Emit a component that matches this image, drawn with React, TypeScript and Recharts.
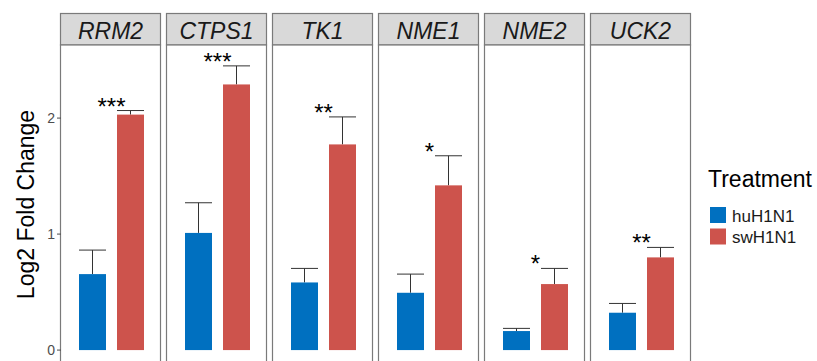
import React from 'react';
import { BarChart, Bar, XAxis, YAxis } from 'recharts';

// qPCR log2 fold change per gene, two treatments
const genes = ['RRM2', 'CTPS1', 'TK1', 'NME1', 'NME2', 'UCK2'];
const huH1N1 = [0.655, 1.01, 0.583, 0.494, 0.164, 0.322];
const swH1N1 = [2.03, 2.29, 1.773, 1.42, 0.569, 0.799];
const huErr = [0.207, 0.26, 0.121, 0.161, 0.023, 0.08];
const swErr = [0.035, 0.16, 0.237, 0.255, 0.135, 0.086];
const signif = ['***', '***', '**', '*', '*', '**'];
const yTicks = [0, 1, 2];

const treatments = ['huH1N1', 'swH1N1'];
const COLORS = ['#0070C0', '#CD534C'];
const FONT = '"Liberation Sans", Arial, sans-serif';

const PANEL_X0 = 60;
const PANEL_STEP = 106;
const PANEL_W = 100;
const PLOT_TOP = 45;
const PLOT_H = 319;
const AXIS_W = 60;
const Y_DOMAIN: [number, number] = [-0.12, 2.63];

function makeShape(errKey: string, valueKey: string, withStar: boolean) {
  return (props: any) => {
    const { x, y, width, height, fill, payload } = props;
    const v = payload[valueKey];
    const ppu = v ? height / v : 0;
    const errTop = y - payload[errKey] * ppu;
    const mid = x + width / 2;
    return (
      <g>
        <line x1={mid} x2={mid} y1={y} y2={errTop} stroke="#333" strokeWidth={1} />
        <line x1={x} x2={x + width} y1={errTop} y2={errTop} stroke="#333" strokeWidth={1} />
        <rect x={x} y={y} width={width} height={height} fill={fill} />
        {withStar && (
          <text
            x={x - 5.5}
            y={errTop + 4}
            textAnchor="middle"
            fontSize={24}
            fontFamily={FONT}
            fill="#000"
          >
            {payload.sig}
          </text>
        )}
      </g>
    );
  };
}

const huShape = makeShape('huErr', 'hu', false);
const swShape = makeShape('swErr', 'sw', true);

function Panel({ i }: { i: number }) {
  const first = i === 0;
  const data = [
    {
      gene: genes[i],
      hu: huH1N1[i],
      sw: swH1N1[i],
      huErr: huErr[i],
      swErr: swErr[i],
      sig: signif[i],
    },
  ];
  const w = first ? PANEL_W + AXIS_W : PANEL_W;
  const left = first ? PANEL_X0 - AXIS_W : PANEL_X0 + PANEL_STEP * i;
  return (
    <div style={{ position: 'absolute', left: left + 0.5, top: PLOT_TOP }}>
      <BarChart
        width={w}
        height={PLOT_H}
        data={data}
        margin={{ top: 0, right: 0, bottom: 0, left: 0 }}
        barSize={27}
        barGap={11}
      >
        <XAxis dataKey="gene" hide />
        <YAxis
          hide={!first}
          width={AXIS_W}
          domain={Y_DOMAIN}
          ticks={yTicks}
          allowDataOverflow
          axisLine={false}
          tickSize={4}
          tickMargin={2}
          tickLine={{ stroke: '#4d4d4d' }}
          tick={{ fill: '#4d4d4d', fontSize: 14, fontFamily: FONT }}
          label={
            first
              ? {
                  value: 'Log2 Fold Change',
                  angle: -90,
                  position: 'center',
                  dx: -5,
                  style: { fill: '#000', fontSize: 23, fontFamily: FONT },
                }
              : undefined
          }
        />
        <Bar dataKey="hu" fill={COLORS[0]} shape={huShape} isAnimationActive={false} />
        <Bar dataKey="sw" fill={COLORS[1]} shape={swShape} isAnimationActive={false} />
      </BarChart>
    </div>
  );
}

export default function App() {
  return (
    <div
      style={{
        position: 'fixed',
        left: 0,
        top: 0,
        width: 817,
        height: 361,
        overflow: 'hidden',
        background: '#fff',
        fontFamily: FONT,
      }}
    >
      <svg width={817} height={361} style={{ position: 'absolute', left: 0, top: 0 }}>
        {genes.map((g, i) => {
          const px = PANEL_X0 + PANEL_STEP * i + 0.5;
          return (
            <g key={g}>
              <rect x={px} y={13.5} width={PANEL_W} height={31.5} fill="#d9d9d9" stroke="#7a7a7a" strokeWidth={1.2} />
              <rect x={px} y={45} width={PANEL_W} height={330} fill="#fff" stroke="#7a7a7a" strokeWidth={1.2} />
              <text
                x={px + PANEL_W / 2}
                y={39.3}
                textAnchor="middle"
                fontSize={23}
                fontStyle="italic"
                fontFamily={FONT}
                fill="#1a1a1a"
              >
                {g}
              </text>
            </g>
          );
        })}
        <text x={708} y={187.3} fontSize={23} fontFamily={FONT} fill="#000">
          Treatment
        </text>
        {treatments.map((t, k) => (
          <g key={t}>
            <rect x={710} y={207 + k * 21.5} width={16} height={16} fill={COLORS[k]} />
            <text x={732} y={221.5 + k * 21.5} fontSize={17} fontFamily={FONT} fill="#1a1a1a">
              {t}
            </text>
          </g>
        ))}
      </svg>
      {genes.map((g, i) => (
        <Panel key={g} i={i} />
      ))}
    </div>
  );
}
